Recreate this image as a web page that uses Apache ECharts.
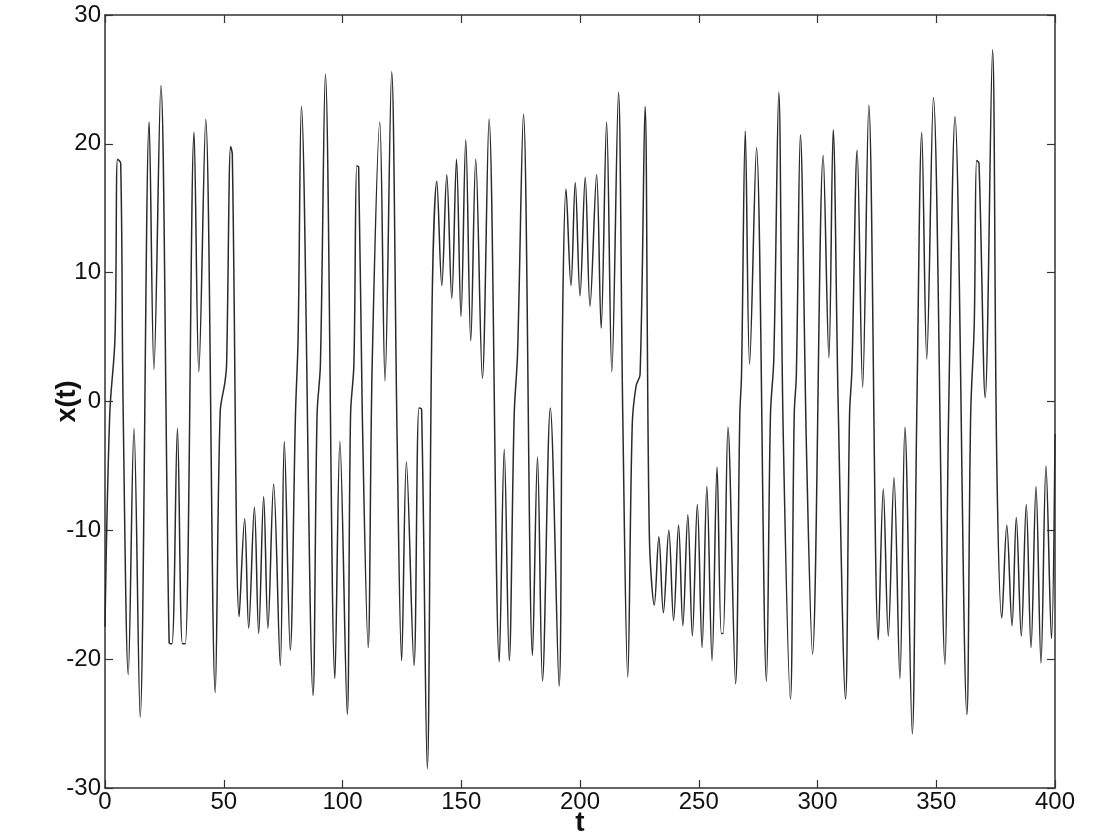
<!DOCTYPE html>
<html>
<head>
<meta charset="utf-8">
<script src="https://cdn.jsdelivr.net/npm/echarts@6/dist/echarts.min.js"></script>
<style>
html, body { margin: 0; padding: 0; background: #fff; }
#chart { width: 1116px; height: 837px; }
</style>
</head>
<body>
<div id="chart"></div>
<script>
// points (extrema and shoulders of x(t))
var tVals = [0, 2, 4.2, 5.3, 6.6, 7.6, 9.8, 12.2, 14.8, 18.6, 20.6, 23.5, 27, 28.2, 30.5, 32.6, 33.8, 37.5, 39.5, 42.4,
  46.4, 48.5, 50.5, 51.2, 52.9, 53.6, 56.5, 58.8, 60.5, 62.9, 64.7, 66.8, 68.6, 71, 73.8, 75.5, 78, 80.2, 81.3, 82.7,
  87.6, 89.3, 90.7, 92.8, 96.8, 98.9, 102, 103.4, 104.8, 106, 106.8, 108.3, 110.8, 112.5, 115.7, 117.9, 120.7, 123, 124.9, 126.9,
  130.1, 132.2, 133.3, 135.7, 137.8, 139.7, 141.8, 143.9, 146, 148, 149.9, 151.9, 154, 156.1, 158.9, 161.7, 166, 168.1, 170.2, 172.3,
  173.7, 176.2, 180, 182.1, 184.2, 187.5, 191.2, 192.7, 194.1, 196.2, 198, 200, 202.2, 204.2, 207, 208.9, 211.2, 213.4, 216.2, 218,
  220.1, 222, 223.6, 225.3, 227.4, 229.2, 231.3, 233.2, 235.1, 237.4, 239.4, 241.5, 243.3, 245.4, 247.3, 249.4, 251.4, 253.4, 255.6, 257.7,
  259.5, 260.3, 262.3, 265.5, 267.3, 268, 269.6, 271.4, 274.3, 278.5, 280.2, 281.6, 283.7, 285.5, 288.6, 290.2, 291.1, 292.8, 295.4, 297.9,
  302.4, 304.8, 306.6, 308.7, 311.8, 313.5, 314.5, 316.7, 319, 321.6, 325.6, 327.7, 329.8, 332.2, 334.7, 336.8, 339.9, 341.8, 343.9, 346,
  348.8, 353.7, 355.2, 357.9, 362.9, 364.5, 366, 367, 368, 370.6, 373.7, 375.5, 377.6, 379.7, 381.9, 383.7, 385.8, 387.9, 389.9, 392,
  394.1, 396.2, 398.5, 400];
var xVals = [-17.5, -1, 4.9, 18.8, 18.5, 0, -21.2, -2.1, -24.5, 21.7, 2.5, 24.5, -18.7, -18.8, -2.1, -18.8, -18.8, 20.9, 2.3, 21.9,
  -22.6, -0.8, 1.5, 2.9, 19.8, 19.2, -16.7, -9.1, -17.6, -8.2, -18, -7.4, -17.6, -6.4, -20.5, -3.1, -19.3, -1, 4.9, 22.9,
  -22.8, -1, 2.9, 25.4, -21.5, -3.1, -24.3, -1, 2.9, 18.3, 18.2, -0.6, -19.1, 2.9, 21.7, 1.6, 25.6, -2.9, -20.1, -4.7,
  -20.5, -0.5, -0.6, -28.5, 8.4, 17.1, 9, 17.6, 8, 18.8, 6.6, 20.3, 4.7, 18.8, 1.8, 21.9, -20.2, -3.7, -20.1, -1,
  3.7, 22.3, -19.7, -4.3, -21.7, -0.5, -22.1, 6.8, 16.5, 9, 17, 8.2, 17.4, 7.4, 17.6, 5.7, 21.7, 2.3, 24, -1,
  -21.4, -1.8, 1.2, 2.1, 22.9, -10.4, -15.8, -10.5, -16.4, -10, -17, -9.6, -17.4, -8.8, -18.2, -8, -19.1, -6.6, -20.1, -5.1,
  -18, -18, -2, -21.9, -1, 2, 21, 2.9, 19.7, -21.7, -1, 3.3, 24, -1.8, -23.1, -1, 2.1, 20.7, -4.1, -19.6,
  19.1, 3.4, 21.1, -0.2, -23.1, -1, 2.5, 19.5, 1.1, 23, -18.5, -6.8, -18.2, -5.9, -21.5, -2, -25.8, -1, 20.9, 3.3,
  23.6, -20.4, -1, 22.1, -24.3, -1, 6, 18.7, 18.5, 0.3, 27.3, -4.9, -16.8, -9.6, -17.4, -9, -18.2, -8, -19.1, -6.6,
  -20.3, -5, -18.4, -2.5];

var points = tVals.map(function (t, i) { return [t, xVals[i]]; });

var myChart = echarts.init(document.getElementById('chart'));
var tickFont = { fontFamily: 'Liberation Sans', fontSize: 24, color: '#111' };
var frameLine = { onZero: false, lineStyle: { color: '#333', width: 1.5 } };
var inTick = { inside: true, length: 8, lineStyle: { color: '#333', width: 1.2 } };
var option = {
    animation: false,
    backgroundColor: '#fff',
    grid: { left: 105, right: 61, top: 15, bottom: 49, outerBoundsMode: 'none', containLabel: false },
    xAxis: [
        {
            type: 'value', min: 0, max: 400, interval: 50,
            name: 't', nameLocation: 'middle', nameGap: 21, nameMoveOverlap: false,
            nameTextStyle: { fontFamily: 'Liberation Sans', fontSize: 28, fontWeight: 'bold', color: '#111' },
            axisLine: frameLine,
            axisTick: inTick,
            axisLabel: Object.assign({ margin: 2 }, tickFont),
            splitLine: { show: false }
        },
        {
            type: 'value', min: 0, max: 400, interval: 50, position: 'top',
            axisLine: frameLine,
            axisTick: inTick,
            axisLabel: { show: false },
            splitLine: { show: false }
        }
    ],
    yAxis: [
        {
            type: 'value', min: -30, max: 30, interval: 10,
            name: 'x(t)', nameLocation: 'middle', nameGap: 24, nameRotate: 90, nameMoveOverlap: false,
            nameTextStyle: { fontFamily: 'Liberation Sans', fontSize: 27, fontWeight: 'bold', color: '#111' },
            axisLine: frameLine,
            axisTick: inTick,
            axisLabel: Object.assign({ margin: 4 }, tickFont),
            splitLine: { show: false }
        },
        {
            type: 'value', min: -30, max: 30, interval: 10, position: 'right',
            axisLine: frameLine,
            axisTick: inTick,
            axisLabel: { show: false },
            splitLine: { show: false }
        }
    ],
    series: [
        {
            name: 'x(t)',
            type: 'line',
            data: points,
            smooth: 0.35,
            showSymbol: false,
            lineStyle: { color: '#2a2a2a', width: 1.5 }
        }
    ]
};
myChart.setOption(option);
</script>
</body>
</html>
